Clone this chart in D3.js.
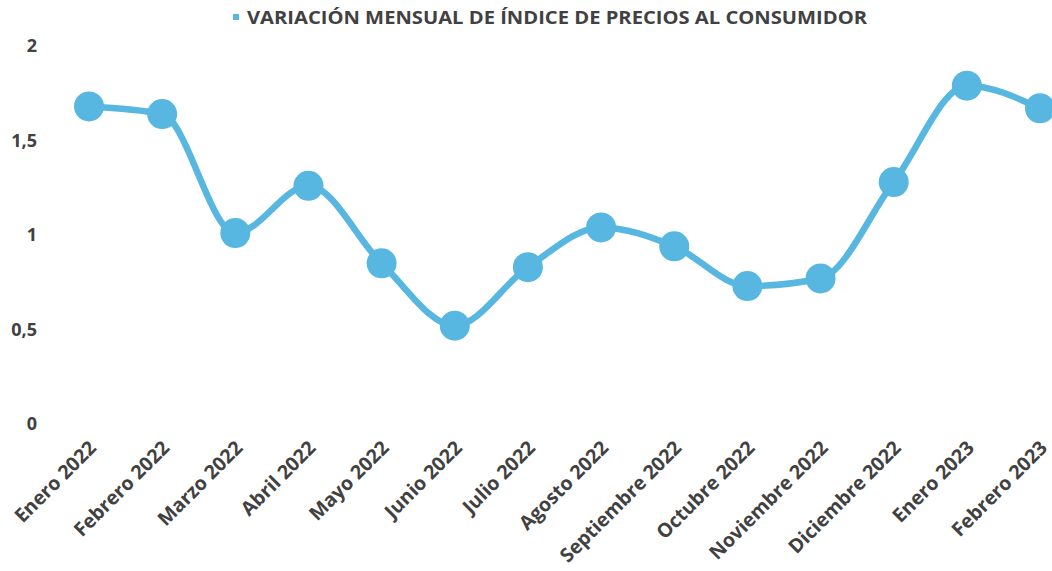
<html>
<script src="https://d3js.org/d3.v7.min.js"></script>
<style>
body { margin: 0; background: #fff; }
text { font-family: "Open Sans", sans-serif; font-weight: bold; fill: #414141; }
</style>
<body onload="init()">
<svg width="1052" height="571"></svg>
<script>
const months = ["Enero 2022", "Febrero 2022", "Marzo 2022", "Abril 2022", "Mayo 2022", "Junio 2022",
    "Julio 2022", "Agosto 2022", "Septiembre 2022", "Octubre 2022", "Noviembre 2022",
    "Diciembre 2022", "Enero 2023", "Febrero 2023"];
const ipc = [1.68, 1.64, 1.01, 1.26, 0.85, 0.52, 0.83, 1.04, 0.94, 0.73, 0.77, 1.28, 1.79, 1.67];
const yTicks = [0, 0.5, 1, 1.5, 2];
const title = "VARIACIÓN MENSUAL DE ÍNDICE DE PRECIOS AL CONSUMIDOR";

function init() {
    const svg = d3.select("svg");
    const blue = "#58b7e0";

    const x = d3.scalePoint().domain(months).range([89, 1040]);
    const y = d3.scaleLinear().domain([0, 2]).range([424, 46]);

    // title with small legend square
    svg.append("rect")
        .attr("x", 233).attr("y", 14)
        .attr("width", 6).attr("height", 6)
        .attr("fill", blue);
    svg.append("text")
        .attr("x", 247).attr("y", 24)
        .attr("textLength", 620)
        .attr("lengthAdjust", "spacingAndGlyphs")
        .style("font-size", "18px")
        .text(title);

    // y axis, labels only
    const yAxis = d3.axisLeft(y)
        .tickValues(yTicks)
        .tickFormat(d => String(d).replace(".", ","))
        .tickSize(0).tickPadding(0);
    const gy = svg.append("g").attr("transform", "translate(37,0)").call(yAxis);
    gy.select(".domain").remove();
    gy.selectAll("text")
        .style("font-size", "18px")
        .style("font-family", "'Open Sans', sans-serif")
        .attr("fill", "#414141");

    // x axis, rotated labels
    const xAxis = d3.axisBottom(x).tickSize(0).tickPadding(0);
    const gx = svg.append("g").attr("transform", "translate(0,440)").call(xAxis);
    gx.select(".domain").remove();
    gx.selectAll("text")
        .style("font-size", "19.5px")
        .style("font-family", "'Open Sans', sans-serif")
        .attr("fill", "#414141")
        .attr("text-anchor", "end")
        .attr("dy", "0")
        .attr("transform", "translate(8,9) rotate(-45)");

    // line
    const line = d3.line()
        .x((d, i) => x(months[i]))
        .y(d => y(d))
        .curve(d3.curveMonotoneX);
    svg.append("path")
        .datum(ipc)
        .attr("fill", "none")
        .attr("stroke", blue)
        .attr("stroke-width", 6.5)
        .attr("d", line);

    // points
    svg.selectAll("circle")
        .data(ipc)
        .enter()
        .append("circle")
        .attr("cx", (d, i) => x(months[i]))
        .attr("cy", d => y(d))
        .attr("r", 15)
        .attr("fill", blue);
}
</script>
</body>
</html>
